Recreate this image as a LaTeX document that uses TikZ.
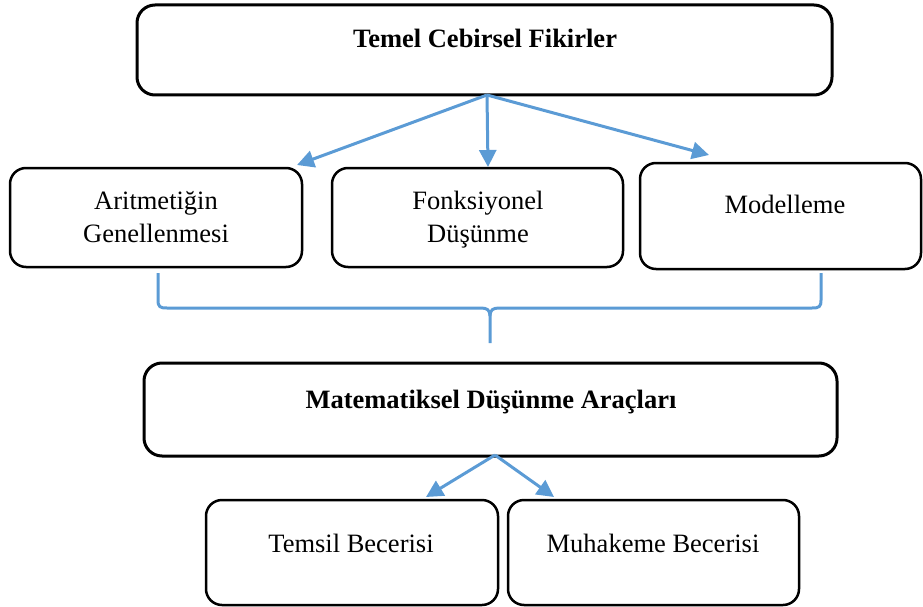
\documentclass[tikz,border=0pt]{standalone}
\usepackage{fontspec}
\setmainfont{Liberation Serif}
\usetikzlibrary{arrows.meta}
\definecolor{conblue}{HTML}{5B9BD5}
\begin{document}
\begin{tikzpicture}[x=1pt,y=-1pt,
  bigbox/.style={draw, line width=3pt, rounded corners=18pt, inner sep=0pt, outer sep=0pt},
  smallbox/.style={draw, line width=2.5pt, rounded corners=16pt, inner sep=0pt, outer sep=0pt},
  txt/.style={font=\fontsize{26.5}{33}\selectfont, align=center, inner sep=0pt, anchor=base},
  btxt/.style={font=\fontsize{26.5}{33}\selectfont\bfseries, align=center, inner sep=0pt, anchor=base},
  conn/.style={draw=conblue, line width=3pt, -{Triangle[length=17pt,width=17pt]}},
  bracestyle/.style={draw=conblue, line width=3pt}]
\useasboundingbox (0,0) rectangle (923,607);

% boxes
\node[bigbox, minimum width=695pt, minimum height=90pt] (top) at (484.5,50) {};
\node[btxt] (toptxt) at (485,48) {Temel Cebirsel Fikirler};

\node[smallbox, minimum width=292pt, minimum height=99pt] (b1) at (156,217.5) {};
\node[txt] (b1txt) at (156,242) {Aritmetiğin\\Genellenmesi};
\node[smallbox, minimum width=291pt, minimum height=99pt] (b2) at (477.5,217.5) {};
\node[txt] (b2txt) at (478,242) {Fonksiyonel\\Düşünme};
\node[smallbox, minimum width=281pt, minimum height=106pt] (b3) at (780.5,216) {};
\node[txt] (b3txt) at (785,213) {Modelleme};

\node[bigbox, minimum width=693pt, minimum height=93pt] (mid) at (490.5,409.5) {};
\node[btxt] (midtxt) at (491,408) {Matematiksel Düşünme Araçları};

\node[smallbox, minimum width=292pt, minimum height=105pt] (c1) at (352,552.5) {};
\node[txt] (c1txt) at (351,552) {Temsil Becerisi};
\node[smallbox, minimum width=291pt, minimum height=105pt] (c2) at (653.5,552.5) {};
\node[txt] (c2txt) at (653,552) {Muhakeme Becerisi};

% arrow ends
\coordinate (topsrc) at (487,95);
\coordinate (a1) at (297,165);
\coordinate (a2) at (488,167);
\coordinate (a3) at (709,155);
\coordinate (midsrc) at (495,455);
\coordinate (d1) at (426,497);
\coordinate (d2) at (554,497);

\draw[conn] (topsrc) -- (a1);
\draw[conn] (topsrc) -- (a2);
\draw[conn] (topsrc) -- (a3);
\draw[conn] (midsrc) -- (d1);
\draw[conn] (midsrc) -- (d2);

% brace
\draw[bracestyle] (158,273) -- (158,300) .. controls (158,307) and (160,308) .. (167,308)
  -- (481,308) .. controls (487,308) and (490,310) .. (490,316) -- (490,343);
\draw[bracestyle] (821,273) -- (821,300) .. controls (821,307) and (819,308) .. (812,308)
  -- (499,308) .. controls (493,308) and (490,310) .. (490,316);
\end{tikzpicture}
\end{document}
